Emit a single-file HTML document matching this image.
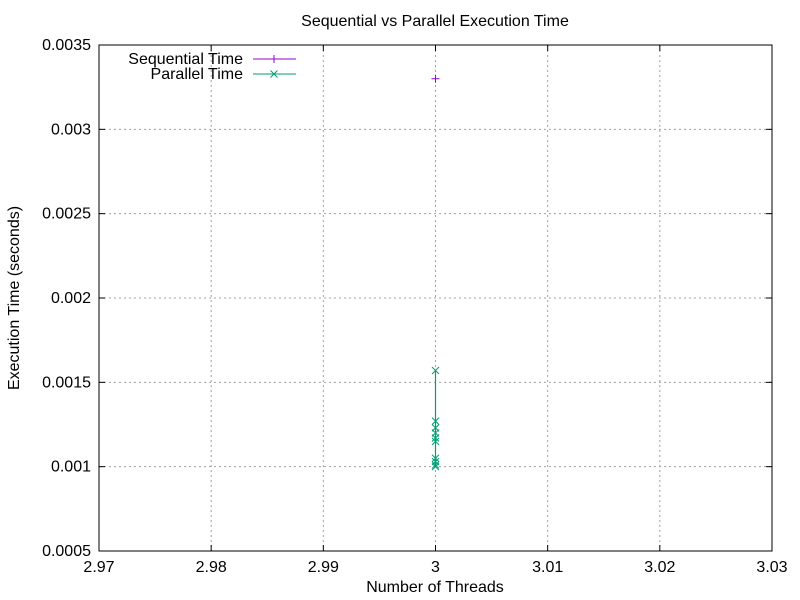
<!DOCTYPE html>
<html><head><meta charset="utf-8"><style>body{margin:0;background:#fff}svg{display:block}text{font-family:"Liberation Sans",sans-serif;font-size:16px;fill:#000}</style></head>
<body>
<svg id="chart" width="800" height="600"></svg>
<script>
const xTicks=[2.97,2.98,2.99,3,3.01,3.02,3.03];
const xTickLabels=["2.97","2.98","2.99","3","3.01","3.02","3.03"];
const yTicks=[0.0005,0.001,0.0015,0.002,0.0025,0.003,0.0035];
const yTickLabels=["0.0005","0.001","0.0015","0.002","0.0025","0.003","0.0035"];
const seqX=[3];
const seqY=[0.0033];
const parX=[3,3,3,3,3,3,3,3,3,3];
const parY=[0.00157,0.00127,0.00123,0.00120,0.00117,0.00115,0.00105,0.00103,0.00101,0.00100];
const L=99,R=772,T=45,B=551;
const sx=v=>L+(v-2.97)/0.06*(R-L);
const sy=v=>B-(v-0.0005)/0.003*(B-T);
const svg=document.getElementById('chart');
const NS='http://www.w3.org/2000/svg';
function mk(tag,attrs,txt){const e=document.createElementNS(NS,tag);for(const k in attrs)e.setAttribute(k,attrs[k]);if(txt!==undefined)e.textContent=txt;svg.appendChild(e);return e;}
xTicks.forEach((v,i)=>{const x=sx(v);
 if(i>0&&i<xTicks.length-1){const g=mk('line',{x1:x,x2:x,y1:T,y2:B,stroke:'#a0a0a0','stroke-dasharray':'2,3'});}
 const t=mk('line',{x1:x,x2:x,y1:B,y2:B-6,stroke:'#000'});
 const t2=mk('line',{x1:x,x2:x,y1:T,y2:T+6,stroke:'#000'});
 const l=mk('text',{x:x,y:B+21,'text-anchor':'middle'},xTickLabels[i]);});
yTicks.forEach((v,i)=>{const y=sy(v);
 if(i>0&&i<yTicks.length-1){const g=mk('line',{x1:L,x2:R,y1:y,y2:y,stroke:'#a0a0a0','stroke-dasharray':'2,3'});}
 const t=mk('line',{x1:L,x2:L+6,y1:y,y2:y,stroke:'#000'});
 const t2=mk('line',{x1:R,x2:R-6,y1:y,y2:y,stroke:'#000'});
 const l=mk('text',{x:L-8,y:y+5,'text-anchor':'end'},yTickLabels[i]);});
const fr=mk('rect',{x:L,y:T,width:R-L,height:B-T,fill:'none',stroke:'#000'});


const tt=mk('text',{x:435,y:26,'text-anchor':'middle'},'Sequential vs Parallel Execution Time');


const xt=mk('text',{x:435,y:592,'text-anchor':'middle'},'Number of Threads');


const yt=mk('text',{x:19,y:298,'text-anchor':'middle',transform:'rotate(-90 19 298)'},'Execution Time (seconds)');


const PC='#9400d3',GC='#009e73';
function plus(x,y,c,n){const p=mk('path',{d:`M${x-4},${y}h8M${x},${y-4}v8`,stroke:c,fill:'none'});}
function cross(x,y,c,n){const p=mk('path',{d:`M${x-3.5},${y-3.5}l7,7M${x-3.5},${y+3.5}l7,-7`,stroke:c,fill:'none'});}
seqX.forEach((v,i)=>plus(sx(v),sy(seqY[i]),PC,'sequential-point'));
const pl=mk('polyline',{points:parX.map((v,i)=>sx(v)+','+sy(parY[i])).join(' '),stroke:GC,fill:'none','stroke-width':1.2});


parX.forEach((v,i)=>cross(sx(v),sy(parY[i]),GC,'parallel-point'));
const l1=mk('text',{x:243,y:64,'text-anchor':'end'},'Sequential Time');


const ll1=mk('line',{x1:253,x2:296,y1:59,y2:59,stroke:PC});


plus(274,59,PC,'legend-sequential-marker');
const l2=mk('text',{x:243,y:79,'text-anchor':'end'},'Parallel Time');


const ll2=mk('line',{x1:253,x2:296,y1:74,y2:74,stroke:GC});


cross(274,74,GC,'legend-parallel-marker');
</script>
</body></html>
